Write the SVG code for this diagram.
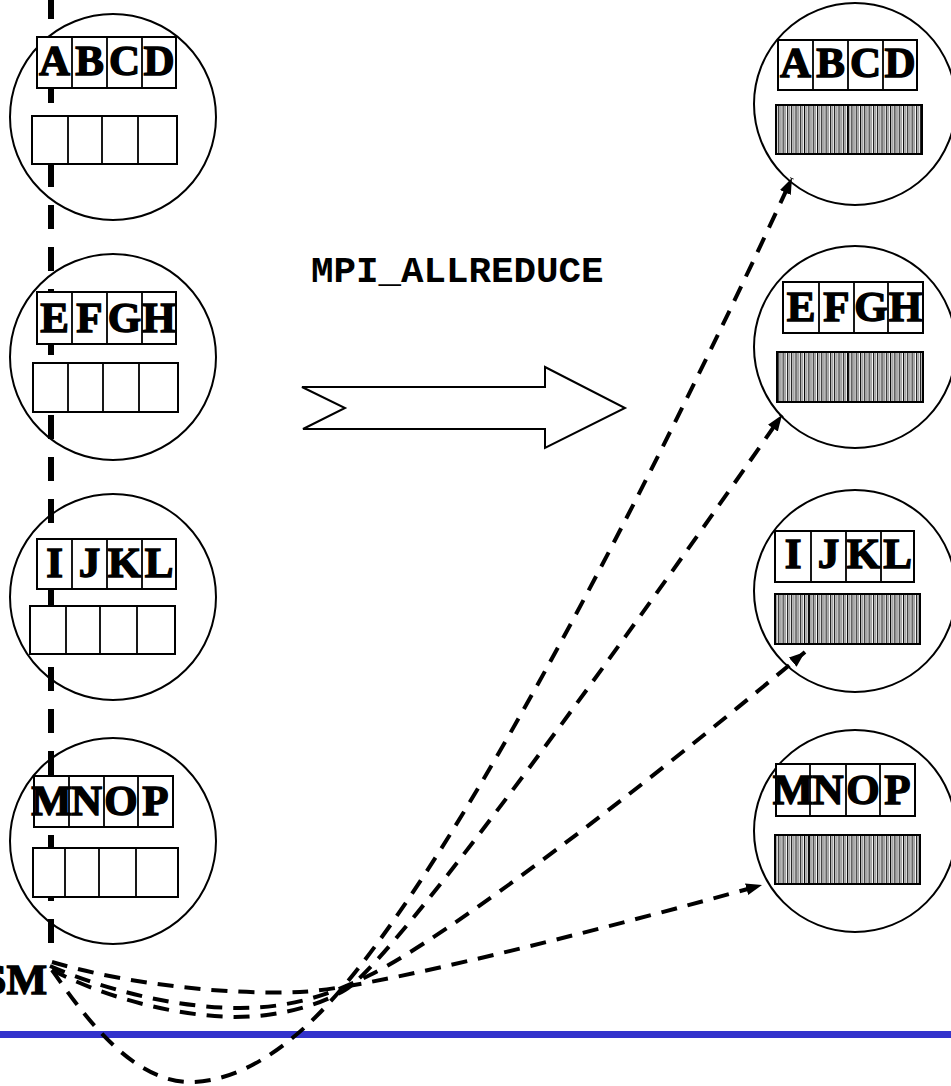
<svg xmlns="http://www.w3.org/2000/svg" width="951" height="1086" viewBox="0 0 951 1086">
<style>
.c{fill:none;stroke:#000;stroke-width:2}
.b{fill:#fff;stroke:#000;stroke-width:2}
.d{stroke:#000;stroke-width:1.8}
.bar{fill:url(#stripes);stroke:#000;stroke-width:2}
.L{font-family:"Liberation Serif","Times New Roman",serif;font-weight:bold;font-size:43px;text-anchor:middle;fill:#000;stroke:#000;stroke-width:1.4}
.conn{fill:none;stroke:#000;stroke-width:4;stroke-dasharray:16 11;marker-end:url(#ah)}
</style>
<defs>
<pattern id="stripes" width="4.3" height="10" patternUnits="userSpaceOnUse">
<rect width="4.3" height="10" fill="#fff"/>
<rect x="0" width="1.1" height="10" fill="#000"/>
<rect x="1.9" width="1.4" height="10" fill="#8f8f8f"/>
</pattern>
<marker id="ah" markerUnits="userSpaceOnUse" markerWidth="17" markerHeight="13" refX="16" refY="6" orient="auto">
<path d="M0,0 L16,6 L0,12 Z" fill="#000"/>
</marker>
</defs>
<rect width="951" height="1086" fill="#fff"/>
<rect x="0" y="1031" width="951" height="7" fill="#3333cc"/>
<line id="timeline" x1="51" y1="-5" x2="51" y2="943" stroke="#000" stroke-width="6" stroke-dasharray="24 18"/>

<g id="left-abcd">
<circle class="c" cx="113" cy="117" r="103"/>
<rect class="b" x="37" y="37" width="139" height="51"/>
<path class="d" d="M72,37V88M107,37V88M142,37V88"/>
<text class="L" x="54.5" y="75">A</text><text class="L" x="89.5" y="75">B</text><text class="L" x="124.5" y="75">C</text><text class="L" x="159" y="75">D</text>
<rect class="b" x="32" y="116" width="145" height="48"/>
<path class="d" d="M68,116V164M102,116V164M138,116V164"/>
</g>
<g id="left-efgh">
<circle class="c" cx="113" cy="357" r="103"/>
<rect class="b" x="37" y="292" width="139" height="52"/>
<path class="d" d="M72,292V344M107,292V344M142,292V344"/>
<text class="L" x="54.5" y="332">E</text><text class="L" x="89.5" y="332">F</text><text class="L" x="124.5" y="332">G</text><text class="L" x="159" y="332">H</text>
<rect class="b" x="33" y="363" width="145" height="49"/>
<path class="d" d="M68,363V412M103,363V412M139,363V412"/>
</g>
<g id="left-ijkl">
<circle class="c" cx="113" cy="597" r="103"/>
<rect class="b" x="37" y="539" width="139" height="50"/>
<path class="d" d="M72,539V589M107,539V589M142,539V589"/>
<text class="L" x="54.5" y="577">I</text><text class="L" x="89.5" y="577">J</text><text class="L" x="124.5" y="577">K</text><text class="L" x="159" y="577">L</text>
<rect class="b" x="30" y="606" width="145" height="48"/>
<path class="d" d="M66,606V654M100,606V654M137,606V654"/>
</g>
<g id="left-mnop">
<circle class="c" cx="113" cy="841" r="103"/>
<rect class="b" x="34" y="776" width="139" height="51"/>
<path class="d" d="M69,776V827M104,776V827M138,776V827"/>
<text class="L" x="51.5" y="815">M</text><text class="L" x="86.5" y="815">N</text><text class="L" x="121" y="815">O</text><text class="L" x="155.5" y="815">P</text>
<rect class="b" x="33" y="848" width="145" height="49"/>
<path class="d" d="M65,848V897M99,848V897M136,848V897"/>
</g>

<g id="right-abcd">
<circle class="c" cx="855" cy="104" r="101"/>
<rect class="b" x="778" y="40" width="139" height="50"/>
<path class="d" d="M813,40V90M848,40V90M883,40V90"/>
<text class="L" x="795.5" y="77">A</text><text class="L" x="830.5" y="77">B</text><text class="L" x="865.5" y="77">C</text><text class="L" x="900" y="77">D</text>
<rect class="bar" x="776" y="105" width="146" height="49"/>
<path class="d" d="M848,105V154"/>
</g>
<g id="right-efgh">
<circle class="c" cx="855" cy="347" r="101"/>
<rect class="b" x="783" y="282" width="140" height="51"/>
<path class="d" d="M819,282V333M854,282V333M888,282V333"/>
<text class="L" x="801" y="321">E</text><text class="L" x="836.5" y="321">F</text><text class="L" x="871" y="321">G</text><text class="L" x="905.5" y="321">H</text>
<rect class="bar" x="777" y="352" width="146" height="50"/>
<path class="d" d="M848,352V402"/>
</g>
<g id="right-ijkl">
<circle class="c" cx="855" cy="591" r="101"/>
<rect class="b" x="775" y="531" width="139" height="51"/>
<path class="d" d="M811,531V582M846,531V582M881,531V582"/>
<text class="L" x="793" y="568">I</text><text class="L" x="828.5" y="568">J</text><text class="L" x="863.5" y="568">K</text><text class="L" x="897.5" y="568">L</text>
<rect class="bar" x="775" y="594" width="145" height="50"/>
<path class="d" d="M809,594V644"/>
</g>
<g id="right-mnop">
<circle class="c" cx="855" cy="831" r="101"/>
<rect class="b" x="776" y="764" width="139" height="52"/>
<path class="d" d="M810,764V816M846,764V816M880,764V816"/>
<text class="L" x="793" y="804">M</text><text class="L" x="828" y="804">N</text><text class="L" x="863" y="804">O</text><text class="L" x="897.5" y="804">P</text>
<rect class="bar" x="775" y="835" width="145" height="49"/>
<path class="d" d="M809,835V884"/>
</g>

<g id="operation">
<text x="311" y="282" font-family="'Liberation Mono','Courier New',monospace" font-weight="bold" font-size="37.5" fill="#000">MPI_ALLREDUCE</text>
<polygon points="302,387 545,387 545,367 625,408 545,448 545,429 303,429 345,408" fill="#fff" stroke="#000" stroke-width="2"/>
</g>

<g id="source">
<text x="47" y="994" font-family="'Liberation Serif','Times New Roman',serif" font-weight="bold" font-size="43" text-anchor="end" fill="#000" stroke="#000" stroke-width="1.4">SM</text>
</g>

<g id="connectors">
<path class="conn" d="M52,970 C80,1010 130,1082 190,1082 C240,1082 290,1046 330,1002 C470,848 690,400 792,178"/>
<path class="conn" d="M52,970 C100,995 170,1016 235,1017 C280,1017 320,1005 345,990 C395,960 640,620 782,415"/>
<path class="conn" d="M50,966 C110,992 180,1008 240,1008 C290,1008 330,995 370,975 C450,935 640,790 805,652"/>
<path class="conn" d="M52,962 C130,985 230,995 300,992 C370,989 600,930 762,885"/>
</g>
</svg>
